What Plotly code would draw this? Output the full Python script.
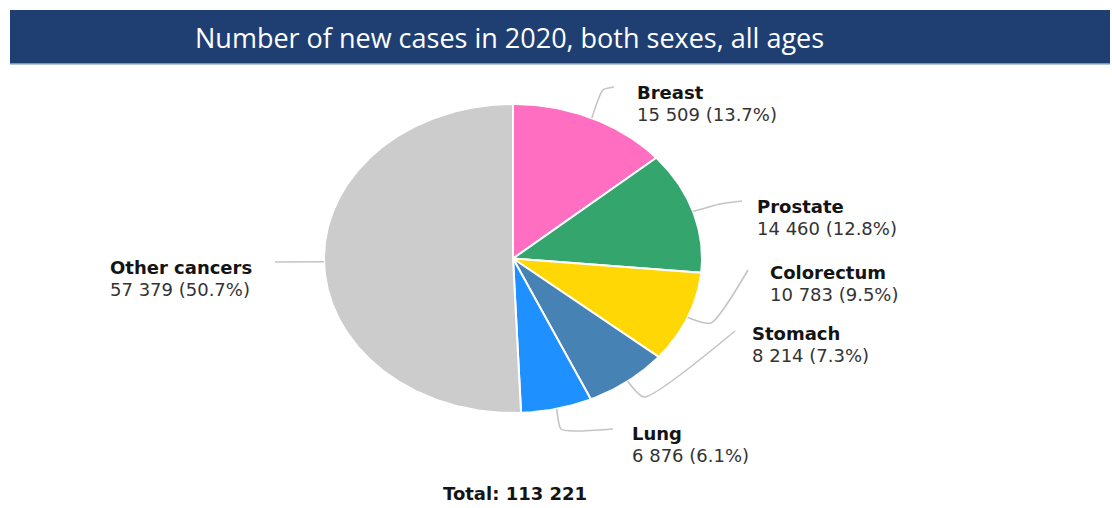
import numpy as np
import plotly.graph_objects as go

# ---- data ----
cancers = ["Breast", "Prostate", "Colorectum", "Stomach", "Lung", "Other cancers"]
cases = [15509, 14460, 10783, 8214, 6876, 57379]
colors = ["#FF6EC0", "#34A56D", "#FFD705", "#4682B4", "#1E90FF", "#CCCCCC"]
title_text = "Number of new cases in 2020, both sexes, all ages"

# ---- layout parameters (pixel space) ----
W, H = 1112, 508
cx, cy, rx, ry = 513, 258.5, 189, 154.5
LABEL_FONT = "DejaVu Sans"

# label anchors (left x, name-line y) and leader-line bends per slice
label_pos = {
    "Breast": (635, 92),
    "Prostate": (755, 206),
    "Colorectum": (768, 272),
    "Stomach": (750, 333),
    "Lung": (630, 433),
    "Other cancers": (108, 267),
}
leader_bends = {
    "Breast": [(603, 90), (614, 87)],
    "Prostate": [(720, 204), (742, 201)],
    "Colorectum": [(711, 323), (748, 270)],
    "Stomach": [(644, 397), (735, 331)],
    "Lung": [(561, 429), (576, 431), (613, 429)],
    "Other cancers": [(275, 262)],
}

total = sum(cases)


def fmt(n):
    return f"{n:,}".replace(",", " ")


def ellipse_pt(theta):
    # theta measured clockwise from 12 o'clock, in radians
    return cx + rx * np.sin(theta), cy - ry * np.cos(theta)


fig = go.Figure()

# wedges, clockwise from the top
start = 0.0
for name, val, col in zip(cancers, cases, colors):
    span = 2 * np.pi * val / total
    t = np.linspace(start, start + span, max(int(span * 80), 4))
    ex, ey = ellipse_pt(t)
    xs = np.concatenate([[cx], ex, [cx]])
    ys = np.concatenate([[cy], ey, [cy]])
    fig.add_trace(go.Scatter(
        x=xs, y=ys, mode="lines", fill="toself", fillcolor=col,
        line=dict(color="white", width=2), hoverinfo="text",
        text=f"{name}: {fmt(val)}", showlegend=False,
    ))

    # leader line from the slice's mid-angle on the rim
    mid = start + span / 2
    sx, sy = ellipse_pt(mid)
    pts = [(sx, sy)] + leader_bends[name]
    fig.add_trace(go.Scatter(
        x=[p[0] for p in pts], y=[p[1] for p in pts], mode="lines",
        line=dict(color="#C4C4C4", width=1.6, shape="spline", smoothing=0.6),
        hoverinfo="skip", showlegend=False,
    ))

    # bold name over "count (share%)"
    lx, ly = label_pos[name]
    pct = 100 * val / total
    fig.add_annotation(
        x=lx, y=ly, xref="x", yref="y", xanchor="left", yanchor="middle",
        text=f"<b>{name}</b>", showarrow=False,
        font=dict(family=LABEL_FONT, size=18, color="#141414"),
    )
    fig.add_annotation(
        x=lx, y=ly + 22, xref="x", yref="y", xanchor="left", yanchor="middle",
        text=f"{fmt(val)} ({pct:.1f}%)", showarrow=False,
        font=dict(family=LABEL_FONT, size=18, color="#333333"),
    )
    start += span

# total below the pie
fig.add_annotation(
    x=cx + 2, y=493, xref="x", yref="y", xanchor="center", yanchor="middle",
    text=f"<b>Total: {fmt(total)}</b>", showarrow=False,
    font=dict(family=LABEL_FONT, size=18, color="#141414"),
)

# title banner
fig.add_shape(type="rect", xref="x", yref="y", x0=10, x1=1110, y0=10, y1=64,
              fillcolor="#1F3F73", line=dict(width=0), layer="below")
fig.add_shape(type="line", xref="x", yref="y", x0=10, x1=1110, y0=64, y1=64,
              line=dict(color="#9FB3CF", width=1.5))
fig.add_annotation(
    x=509, y=37, xref="x", yref="y", xanchor="center", yanchor="middle",
    text=title_text, showarrow=False,
    font=dict(family="Open Sans", size=27, color="white"),
)

fig.update_layout(
    width=W, height=H,
    margin=dict(l=0, r=0, t=0, b=0),
    paper_bgcolor="white", plot_bgcolor="white",
    xaxis=dict(range=[0, W], visible=False, fixedrange=True),
    yaxis=dict(range=[H, 0], visible=False, fixedrange=True),
)

fig.write_html("out.html")
